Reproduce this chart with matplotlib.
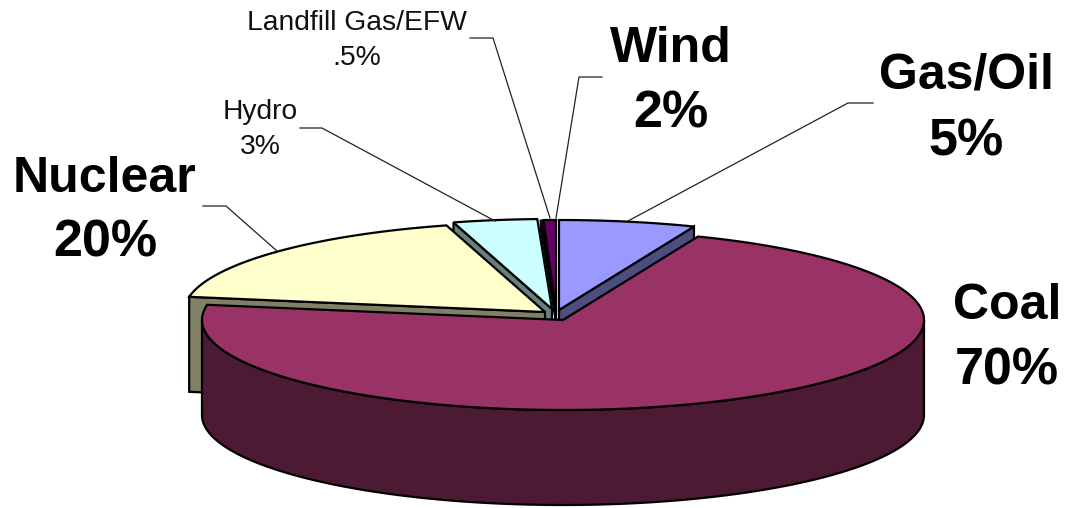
import numpy as np
import matplotlib
matplotlib.use("Agg")
import matplotlib.pyplot as plt

plt.rcParams['font.family'] = ['Liberation Sans', 'DejaVu Sans']

# slices clockwise from 12 o'clock, drawn share (not the printed label)
names = ["Gas/Oil", "Coal", "Nuclear", "Hydro", "Landfill Gas/EFW", "Wind"]
labels = ["5%", "70%", "20%", "3%", ".5%", "2%"]
shares = [6.1, 71.6, 17.9, 3.75, 0.1, 0.55]

top_colors = ["#9999ff", "#993366", "#ffffcc", "#ccffff", "#660066", "#660066"]
side_colors = ["#4d4d80", "#4d1a33", "#808066", "#668080", "#330033", "#330033"]

# where each exploded slice has its tip, in pixels
tips = [(559, 310), (563, 320), (545, 312), (552, 309), (555, 310), (556, 310)]
RX, RY, DEPTH = 361, 90, 95

# draw order: back slices first, then nuclear, coal on top
draw_order = [0, 3, 4, 5, 2, 1]

fig = plt.figure(figsize=(10.65, 5.08), dpi=100)
ax = fig.add_axes([0, 0, 1, 1])
ax.set_xlim(0, 1065)
ax.set_ylim(508, 0)
ax.axis('off')


def arc(tip, start, end):
    t = np.radians(np.linspace(start, end, 200))
    return tip[0] + RX * np.sin(t), tip[1] - RY * np.cos(t)


edges = np.concatenate([[0], np.cumsum(shares)]) / sum(shares) * 360

for i in draw_order:
    tip = tips[i]
    a, b = edges[i], edges[i + 1]
    x, y = arc(tip, a, b)
    z = draw_order.index(i)
    lw = 0.8 if shares[i] < 0.5 else 1.6
    # the two thin slices would turn to a black bar with a full height face
    depth = 9 if shares[i] < 1 else DEPTH

    # only the cut face turned to the viewer shows, coal hides both of its own
    if names[i] != "Coal":
        if a > 180:
            px, py = x[0], y[0]
        else:
            px, py = x[-1], y[-1]
        ax.fill([tip[0], px, px, tip[0]],
                [tip[1], py, py + depth, tip[1] + depth],
                facecolor=side_colors[i], edgecolor='black', lw=lw, zorder=z)

    # outer wall, only the front half of the ellipse shows
    lo, hi = max(a, 90), min(b, 270)
    if lo < hi:
        wx, wy = arc(tip, lo, hi)
        ax.fill(np.concatenate([wx, wx[::-1]]),
                np.concatenate([wy, wy[::-1] + DEPTH]),
                facecolor=side_colors[i], edgecolor='black', lw=lw, zorder=z)

    ax.fill(np.concatenate([[tip[0]], x]), np.concatenate([[tip[1]], y]),
            facecolor=top_colors[i], edgecolor='black', lw=lw, joinstyle='miter',
            zorder=z + 0.5)

# leader lines
leaders = [
    ([873, 848, 628], [103, 103, 221]),
    ([203, 226, 277], [206, 206, 251]),
    ([300, 322, 495], [128, 128, 221]),
    ([470, 493, 550], [38, 38, 218]),
    ([602, 579, 556], [77, 77, 218]),
]
for lx, ly in leaders:
    ax.plot(lx, ly, color='#222222', lw=0.9, zorder=10)

# text
big = dict(fontsize=36, fontweight='bold', ha='center', va='center', color='black')
pct = dict(big, fontsize=37.5)
small = dict(fontsize=20.3, ha='center', va='center', color='#111111')
ax.text(671, 49, names[5], **big)
ax.text(671, 114, labels[5], **pct)
ax.text(966, 76, names[0], **big)
ax.text(966, 142, labels[0], **pct)
ax.text(1007, 306, names[1], **big)
ax.text(1007, 371, labels[1], **pct)
ax.text(105, 179, names[2], **big)
ax.text(105, 243, labels[2], **pct)
ax.text(260, 112, names[3], **small)
ax.text(260, 147, labels[3], **small)
ax.text(357, 23, names[4], **small)
ax.text(357, 58, labels[4], **small)

fig.savefig("out.png", dpi=100)
